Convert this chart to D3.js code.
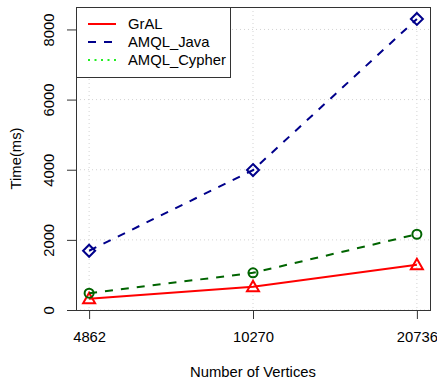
<!DOCTYPE html>
<html><head><meta charset="utf-8">
<script src="https://cdn.jsdelivr.net/npm/d3@7"></script>
<style>body{margin:0;background:#fff}svg{display:block}text{font-family:"Liberation Sans",Arial,sans-serif;fill:#000}</style>
</head><body>
<script>
const categories = ["4862", "10270", "20736"];
const gral = [320, 660, 1290];
const amqlJava = [1690, 3990, 8300];
const amqlCypher = [480, 1060, 2160];
const yTicks = [0, 2000, 4000, 6000, 8000];
const seriesNames = ["GrAL", "AMQL_Java", "AMQL_Cypher"];

(function () {
const W = 437, H = 381;
const mLeft = 76, mRight = 430, mTop = 7, mBottom = 310;
const svg = d3.select("body").append("svg").attr("width", W).attr("height", H);

const x = d3.scaleLinear().domain([0.92, 3.08]).range([mLeft, mRight]);
const y = d3.scaleLinear().domain([0, 8640]).range([mBottom, mTop]);
const fs = 14.8;

// grid
const grid = svg.append("g").attr("stroke", "#d3d3d3").attr("stroke-dasharray", "1,3").attr("stroke-width", 1);
categories.forEach((c, i) => grid.append("line").attr("x1", x(i + 1)).attr("x2", x(i + 1)).attr("y1", mTop).attr("y2", mBottom));
yTicks.forEach(t => grid.append("line").attr("x1", mLeft).attr("x2", mRight).attr("y1", y(t)).attr("y2", y(t)));

// axes
const xAxis = d3.axisBottom(x).tickValues([1, 2, 3]).tickFormat(d => categories[d - 1]).tickSize(9).tickPadding(12);
const gx = svg.append("g").attr("transform", `translate(0,${mBottom})`).call(xAxis);
gx.select(".domain").attr("d", `M${x(1)},0.5H${x(3)}`).attr("stroke", "#333");
gx.selectAll(".tick line").attr("stroke", "#333");
gx.selectAll("text").attr("font-size", fs).attr("font-family", "Liberation Sans, Arial, sans-serif").attr("fill", "#000");

const yAxis = d3.axisLeft(y).tickValues(yTicks).tickSize(9).tickFormat(d3.format("d"));
const gy = svg.append("g").attr("transform", `translate(${mLeft},0)`).call(yAxis);
gy.select(".domain").remove();
gy.selectAll(".tick line").attr("stroke", "#333");
gy.selectAll(".tick text").attr("font-size", fs).attr("font-family", "Liberation Sans, Arial, sans-serif").attr("fill", "#000")
  .attr("x", null).attr("dy", null).attr("text-anchor", "middle").attr("dominant-baseline", "central")
  .attr("transform", "translate(-27,0) rotate(-90)");

// box
svg.append("rect").attr("x", mLeft + 0.5).attr("y", mTop + 0.5).attr("width", mRight - mLeft).attr("height", mBottom - mTop)
  .attr("fill", "none").attr("stroke", "#333");

// titles
svg.append("text").attr("x", (mLeft + mRight) / 2).attr("y", 377).attr("text-anchor", "middle").attr("font-size", fs).text("Number of Vertices");
svg.append("text").attr("transform", `translate(16,${(mTop + mBottom) / 2}) rotate(-90)`).attr("text-anchor", "middle")
  .attr("dominant-baseline", "central").attr("font-size", fs).text("Time(ms)");

// series
const series = [
  {name: seriesNames[0], vals: gral, color: "#ff0000", dash: null, sym: "tri"},
  {name: seriesNames[1], vals: amqlJava, color: "#00008b", dash: "8,8", sym: "dia"},
  {name: seriesNames[2], vals: amqlCypher, color: "#006400", dash: "8,8", sym: "cir"}
];
const line = d3.line().x((d, i) => x(i + 1)).y(d => y(d));
const plot = svg.append("g");
series.forEach(s => {
  plot.append("path").attr("d", line(s.vals)).attr("fill", "none").attr("stroke", s.color)
    .attr("stroke-width", 2).attr("stroke-dasharray", s.dash);
  s.vals.forEach((v, i) => {
    const cx = x(i + 1), cy = y(v);
    let p;
    if (s.sym === "tri") p = `M${cx},${cy - 6}L${cx + 6},${cy + 4.5}L${cx - 6},${cy + 4.5}Z`;
    else if (s.sym === "dia") p = `M${cx},${cy - 6}L${cx + 6},${cy}L${cx},${cy + 6}L${cx - 6},${cy}Z`;
    else { const pp = d3.path(); pp.arc(cx, cy, 4.5, 0, 2 * Math.PI); p = pp.toString(); }
    plot.append("path").attr("d", p).attr("fill", "none").attr("stroke", s.color).attr("stroke-width", 2);
  });
});

// legend
const lg = svg.append("g");
lg.append("rect").attr("x", mLeft + 0.5).attr("y", mTop + 0.5).attr("width", 154).attr("height", 70).attr("fill", "#fff").attr("stroke", "#333");
const legColors = ["#ff0000", "#00008b", "#22ee22"];
const legDash = [null, "8,8", "2,4.5"];
seriesNames.forEach((n, i) => {
  const ly = 24 + i * 18;
  lg.append("line").attr("x1", 88).attr("x2", 116).attr("y1", ly).attr("y2", ly)
    .attr("stroke", legColors[i]).attr("stroke-width", 2).attr("stroke-dasharray", legDash[i]);
  lg.append("text").attr("x", 128).attr("y", ly).attr("dominant-baseline", "central").attr("font-size", fs).text(n);
});
})();
</script>
</body></html>
